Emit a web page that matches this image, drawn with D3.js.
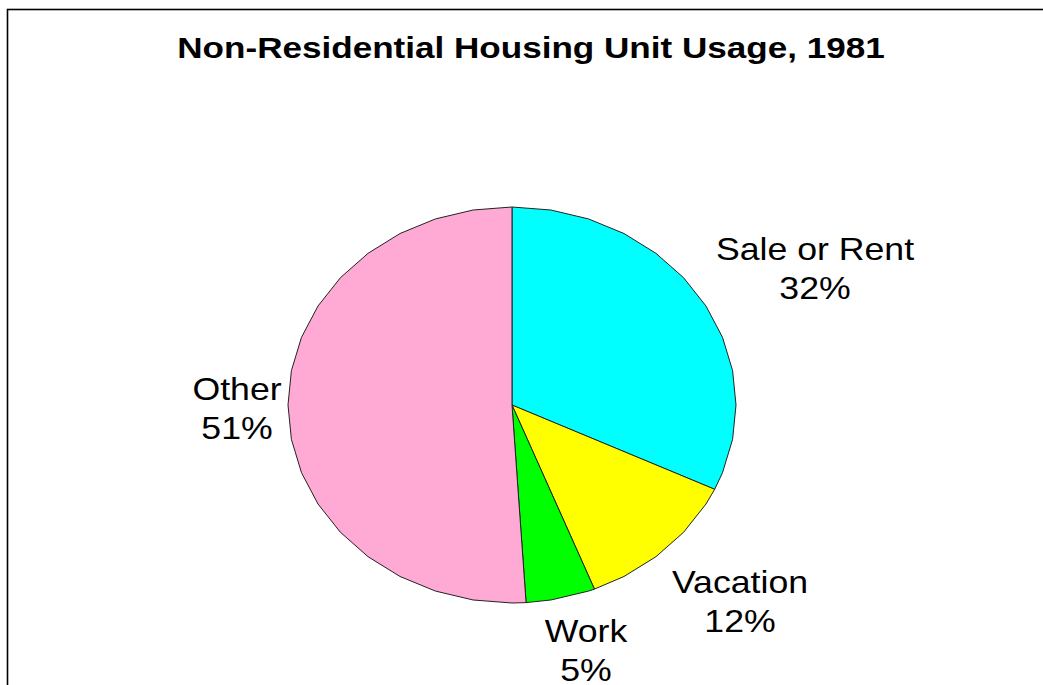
<!DOCTYPE html>
<html>
<head>
<meta charset="utf-8">
<script src="https://cdn.jsdelivr.net/npm/d3@7"></script>
<style>
  body { margin: 0; background: #fff; }
  svg { display: block; }
  text { font-family: "Liberation Sans", Arial, sans-serif; fill: #000; }
</style>
</head>
<body>
<svg id="chart"></svg>
<script>
// data
var categories = ["Sale or Rent", "Vacation", "Work", "Other"];
var values = [32, 12, 5, 51];
var colors = ["#00ffff", "#ffff00", "#00ff00", "#ffaad5"];
var title = "Non-Residential Housing Unit Usage, 1981";

var width = 1043, height = 685;
var cx = 512, cy = 405, rx = 224, ry = 198;

var svg = d3.select("#chart")
  .attr("width", width)
  .attr("height", height);

// frame (runs off the right and bottom edge)
svg.append("rect")
  .attr("x", 7.5).attr("y", 9.5)
  .attr("width", 1100).attr("height", 800)
  .attr("fill", "none")
  .attr("stroke", "#000")
  .attr("stroke-width", 1.6);

svg.append("text")
  .attr("transform", "translate(531,58) scale(1.17,1)")
  .attr("text-anchor", "middle")
  .style("font-size", "30px")
  .style("font-weight", "bold")
  .text(title);

var pie = d3.pie().sort(null).value(function(d) { return d.value; });
var slices = pie(categories.map(function(c, i) { return {name: c, value: values[i], color: colors[i]}; }));

// old-style polygonal ellipse: sample the rim every 10 degrees
var sx = d3.scaleLinear().domain([-1, 1]).range([cx - rx, cx + rx]);
var sy = d3.scaleLinear().domain([-1, 1]).range([cy + ry, cy - ry]);
var step = Math.PI / 18;

function slicePoints(d) {
  var pts = [[0, 0]];
  var angles = [d.startAngle];
  var a = Math.ceil(d.startAngle / step + 1e-6) * step;
  for (; a < d.endAngle - 1e-6; a += step) angles.push(a);
  angles.push(d.endAngle);
  angles.forEach(function(t) { pts.push([Math.sin(t), Math.cos(t)]); });
  return pts;
}

var line = d3.line()
  .x(function(p) { return sx(p[0]); })
  .y(function(p) { return sy(p[1]); })
  .curve(d3.curveLinearClosed);

svg.append("g").selectAll("path")
  .data(slices)
  .enter().append("path")
  .attr("d", function(d) { return line(slicePoints(d)); })
  .attr("fill", function(d) { return d.data.color; })
  .attr("stroke", "#222")
  .attr("stroke-width", 1)
  .attr("stroke-linejoin", "round");

// label positions (centre of text, first baseline)
var labelPos = [[815, 260], [740, 593], [586, 642], [237, 400]];

var labels = svg.append("g").selectAll("g")
  .data(slices)
  .enter().append("g")
  .attr("transform", function(d, i) { return "translate(" + labelPos[i][0] + "," + labelPos[i][1] + ") scale(1.15,1)"; });

labels.append("text")
  .attr("text-anchor", "middle")
  .style("font-size", "31px")
  .text(function(d) { return d.data.name; });

labels.append("text")
  .attr("text-anchor", "middle")
  .attr("y", 39)
  .style("font-size", "31px")
  .text(function(d) { return d.data.value + "%"; });
</script>
</body>
</html>
